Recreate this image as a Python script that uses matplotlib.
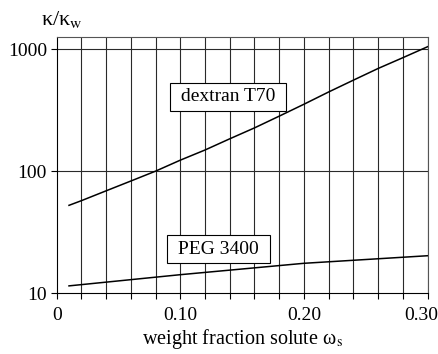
import matplotlib
matplotlib.use("Agg")
import matplotlib.pyplot as plt
import matplotlib.transforms as mtransforms
import numpy as np

# weight fraction of solute
w_dextran = [0.01, 0.02, 0.04, 0.06, 0.08, 0.10, 0.12, 0.14, 0.16, 0.18,
             0.20, 0.22, 0.24, 0.26, 0.28, 0.30]
k_dextran = [52.5, 57.3, 69, 83, 100, 123, 149, 184, 226, 282,
             353, 445, 556, 693, 849, 1044]

w_peg = [0.01, 0.10, 0.20, 0.30]
k_peg = [11.5, 14.2, 17.6, 20.3]

x_ticks = [0, 0.10, 0.20, 0.30]
x_tick_labels = ["0", "0.10", "0.20", "0.30"]
y_ticks = [10, 100, 1000]
y_tick_labels = ["10", "100", "1000"]

plt.rcParams["font.family"] = ["Liberation Serif", "DejaVu Serif"]
plt.rcParams["mathtext.fontset"] = "stix"

fig = plt.figure(figsize=(4.39, 3.54), dpi=100)
ax = fig.add_axes([0.129, 0.1715, 0.845, 0.7248])

ax.set_yscale("log")
ax.set_xlim(0, 0.30)
ax.set_ylim(10, 1261)

grid_color = "#2a2a2a"
x_grid = np.arange(0, 0.30 + 1e-9, 0.02)
for xv in x_grid[1:]:
    ax.axvline(xv, color=grid_color, lw=0.8, zorder=1)
for yv in y_ticks[1:]:
    ax.axhline(yv, color=grid_color, lw=0.8, zorder=1)

ax.plot(w_dextran, k_dextran, color="black", lw=1.1, zorder=3)
ax.plot(w_peg, k_peg, color="black", lw=1.1, zorder=3)

box = dict(boxstyle="square,pad=0.3", fc="white", ec="black", lw=0.8)
ax.text(0.1386, 405, " dextran T70 ", ha="center", va="center",
        fontsize=14, bbox=box, zorder=4)
ax.text(0.131, 23, " PEG 3400 ", ha="center", va="center",
        fontsize=14, bbox=box, zorder=4)

for s in ax.spines.values():
    s.set_color("#555555")
    s.set_linewidth(0.8)
ax.spines["left"].set_color("black")
ax.spines["bottom"].set_color("black")

labels = []
for t in x_grid:
    r = round(t, 2)
    labels.append(x_tick_labels[x_ticks.index(r)] if r in x_ticks else "")
ax.set_xticks(x_grid)
ax.set_xticklabels(labels)
ax.set_yticks(y_ticks)
ax.set_yticklabels(y_tick_labels)
ax.yaxis.set_minor_locator(matplotlib.ticker.NullLocator())
ax.tick_params(axis="both", direction="out", length=4, width=0.8,
               labelsize=14, colors="black")
ax.tick_params(axis="x", pad=6)
ax.tick_params(axis="y", pad=3)

# keep the last x label inside the figure
last = ax.get_xticklabels()[-1]
last.set_transform(last.get_transform() +
                   mtransforms.ScaledTranslation(-6 / 100, 0, fig.dpi_scale_trans))

ax.set_xlabel(r"weight fraction solute ω$_\mathrm{s}$", fontsize=14.5, labelpad=2)
fig.text(0.141, 0.945, r"κ/κ$_\mathrm{w}$", fontsize=16, ha="center", va="center")

fig.savefig("out.png", dpi=100)
